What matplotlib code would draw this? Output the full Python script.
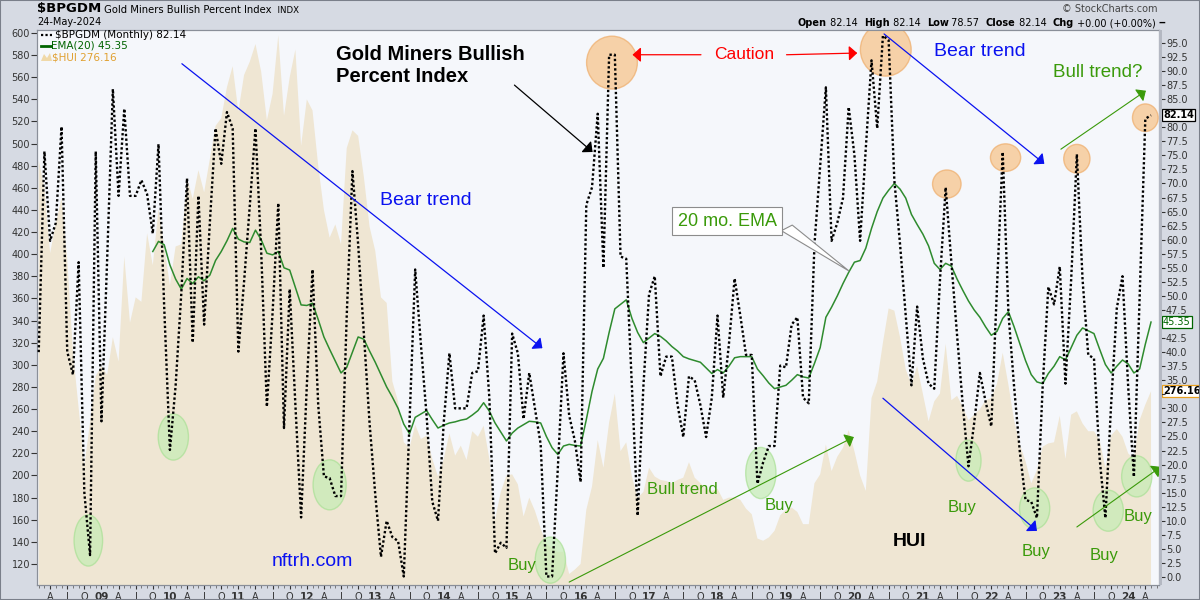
import matplotlib
matplotlib.use("Agg")
import matplotlib.pyplot as plt
import numpy as np
from matplotlib.patches import Ellipse, Polygon, Rectangle
from matplotlib.lines import Line2D

# monthly data, first point = Feb 2008 (month index counted from Jan 2009)
first_month = -11
bpgdm = [
    40.0, 75.7, 59.8, 63.0, 80.1, 40.1, 36.0, 56.0, 15.0, 3.9, 75.7,
    27.7, 56.6, 86.8, 67.8, 83.3, 67.8, 67.8, 70.6, 68.1, 61.1, 77.0, 48.0,
    22.6, 34.0, 50.5, 70.9, 41.7, 67.8, 44.9, 63.0, 79.8, 73.5, 82.7, 79.8,
    40.1, 52.5, 66.0, 79.8, 58.0, 30.3, 47.0, 66.5, 26.5, 51.2, 30.6, 10.6,
    34.0, 54.7, 30.6, 17.9, 17.6, 14.4, 14.4, 46.5, 72.2, 59.2, 43.3, 27.4,
    14.7, 3.6, 10.0, 7.1, 6.4, 0.1, 27.4, 54.7, 41.4, 28.7, 13.4, 10.0,
    27.4, 39.8, 30.0, 30.0, 30.0, 36.3, 36.6, 46.5, 31.9, 4.2, 6.1, 5.2,
    43.3, 39.8, 28.1, 36.3, 30.0, 23.6, 0.1, 0.1, 19.2, 39.8, 28.7, 24.2,
    16.9, 66.2, 69.3, 82.4, 55.0, 92.9, 92.9, 57.0, 56.6, 33.8, 10.9, 33.8,
    50.3, 53.5, 35.7, 39.2, 39.2, 30.6, 24.9, 35.7, 35.0, 30.6, 24.9, 31.9,
    46.5, 31.9, 41.4, 53.1, 46.5, 39.5, 39.5, 16.6, 20.4, 23.3, 23.3, 37.6,
    37.3, 44.9, 46.2, 31.9, 30.9, 59.2, 73.2, 87.1, 59.8, 63.0, 67.4, 83.6,
    75.1, 59.8, 76.3, 91.9, 79.8, 96.3, 95.5, 70.6, 59.2, 46.5, 34.1, 48.1,
    38.9, 34.4, 33.5, 52.8, 69.3, 56.0, 43.0, 30.6, 19.7, 27.4, 36.3, 31.2,
    26.8, 51.6, 75.6, 47.0, 33.8, 22.3, 13.7, 13.4, 10.5, 33.8, 51.6, 48.5,
    55.2, 34.4, 52.9, 75.2, 52.9, 39.5, 38.9, 21.0, 10.5, 30.6, 47.8, 53.5,
    33.8, 17.8, 49.7, 81.5, 82.14,
]
hui = [
    485, 460, 401, 428, 451, 396, 312, 261, 209, 248, 290,
    299, 291, 325, 303, 398, 338, 361, 357, 419, 390, 441, 407,
    372, 407, 409, 469, 450, 476, 456, 486, 516, 523, 551, 570,
    529, 562, 574, 590, 565, 521, 545, 598, 525, 560, 585, 498,
    540, 530, 480, 440, 415, 427, 409, 496, 512, 507, 470, 425,
    403, 361, 356, 285, 267, 230, 225, 246, 233, 236, 215, 199,
    215, 238, 218, 227, 214, 240, 235, 245, 215, 160, 185, 200,
    201, 192, 163, 180, 168, 152, 138, 134, 131, 131, 111, 115,
    120, 169, 190, 232, 207, 248, 274, 222, 230, 199, 180, 185,
    207, 199, 196, 195, 193, 196, 198, 212, 198, 193, 188, 186,
    188, 178, 180, 180, 178, 170, 165, 143, 141, 144, 150, 164,
    169, 171, 167, 156, 156, 193, 201, 228, 204, 217, 225, 241,
    222, 200, 186, 270, 285, 320, 351, 349, 325, 296, 282, 299,
    274, 249, 267, 274, 319, 268, 272, 262, 250, 255, 260, 268,
    270, 283, 311, 282, 250, 228, 213, 193, 205, 226, 229, 230,
    254, 215, 255, 258, 247, 240, 240, 232, 207, 236, 242, 235,
    220, 215, 250, 264, 276.16,
]
# EMA(20) as drawn on the chart, first value = Oct 2009
ema_first_month = 9
ema20 = [
    57.9, 59.7, 59.1,
    55.5, 53.0, 51.2, 53.1, 52.2, 53.4, 52.7, 53.7, 56.3, 57.9, 59.8, 62.0,
    60.1, 59.6, 59.5, 61.7, 60.0, 57.6, 57.3, 57.9, 55.0, 54.6, 51.5, 48.4,
    48.3, 48.7, 45.8, 42.7, 40.5, 38.4, 36.3, 37.3, 40.0, 42.7, 42.3, 40.2,
    38.2, 36.0, 33.8, 32.0, 30.0, 27.2, 25.5, 28.4, 29.0, 29.6, 28.0, 26.5,
    27.0, 27.4, 27.6, 27.9, 28.1, 28.8, 29.6, 31.0, 29.5, 27.4, 25.8, 24.2,
    25.6, 26.5, 27.1, 27.7, 27.6, 27.4, 25.0, 23.0, 21.8, 23.3, 23.6, 23.4,
    23.3, 28.0, 33.0, 37.0, 38.9, 43.5, 47.7, 48.5, 49.3, 46.0, 43.5, 41.7,
    42.5, 43.3, 42.8, 42.0, 41.0, 40.2, 39.2, 38.8, 38.5, 38.2, 37.2, 36.2,
    36.9, 36.3, 37.5, 39.0, 39.2, 39.2, 39.2, 37.0, 35.8, 34.5, 33.5, 33.8,
    34.1, 35.0, 36.0, 35.6, 35.4, 38.0, 40.8, 46.2, 48.0, 50.0, 52.2, 54.2,
    56.0, 56.3, 58.5, 62.0, 65.0, 67.4, 68.8, 70.0, 69.0, 67.4, 64.5, 62.7,
    61.0, 58.9, 55.8, 54.7, 55.8, 55.3, 53.0, 51.0, 49.1, 47.5, 46.2, 44.5,
    43.0, 43.7, 46.0, 47.2, 44.5, 41.5, 38.5, 36.0, 34.7, 34.4, 36.2, 37.5,
    39.2, 38.6, 40.8, 43.0, 44.3, 43.8, 43.3, 40.5, 37.8, 36.3, 37.5, 38.6,
    37.9, 36.3, 37.0, 41.4, 45.35,
]
last_bp, last_ema, last_hui = 82.14, 45.35, 276.16
quarter_letters = {3: "A", 6: "J", 9: "O"}
hui_ticks = list(range(120, 601, 20))
bp_ticks = [i * 2.5 for i in range(39)]
bp_hidden = [82.5, 45.0, 32.5]   # labels covered by the last-value tags

# annotation marks (month index, BPGDM value, width in months, height in %)
caution_circles = [(89.5, 91.5, 8.9, 9.4), (137.5, 93.8, 8.9, 9.4), (148.2, 69.9, 5.0, 5.0),
                   (158.5, 74.6, 5.3, 4.9), (171.0, 74.4, 4.6, 5.1), (183.0, 81.7, 4.5, 4.9)]
buy_circles = [(-2.3, 6.5, 5.0, 9.1), (12.6, 24.9, 5.3, 8.2), (40.0, 16.4, 5.8, 8.9),
               (78.7, 3.0, 5.3, 8.2), (115.6, 18.5, 5.3, 9.1), (152.0, 20.7, 4.4, 7.3),
               (163.6, 12.2, 5.3, 7.3), (176.5, 11.8, 5.3, 7.3), (181.5, 17.9, 5.3, 7.3)]
buy_labels = [(73.8, 2.0), (118.8, 12.8), (150.9, 12.3), (163.8, 4.6), (175.8, 3.9), (181.7, 10.7)]

W, H = 1200, 600
fig = plt.figure(figsize=(12, 6), dpi=100, facecolor="#d6dae3")


def fx(x, y):
    return x / W, 1 - y / H


L, R, T, B = 37, 1159, 30, 585
ax = fig.add_axes([L / W, 1 - B / H, (R - L) / W, (B - T) / H])
ax.set_facecolor("#f5f7fb")
ax2 = ax.twinx()
ax2.patch.set_visible(False)

months = np.arange(first_month, first_month + len(bpgdm))
ema_months = np.arange(ema_first_month, ema_first_month + len(ema20))

ax.fill_between(months, hui, 0, color="#efe6d3", lw=0, zorder=1)
ax.set_ylim(101, 602.7)
ax.set_xlim(-11.3, 185.4)
ax2.set_ylim(-1.42, 97.3)

ax2.plot(ema_months, ema20, color="#2e8b2e", lw=1.1, zorder=3)
ax2.plot(months, bpgdm, color="black", lw=1.7, ls=(0, (1, 1)),
         dash_capstyle="butt", zorder=4)

# ticks
tick_font = dict(family="DejaVu Sans", size=7)
ax.set_yticks(hui_ticks)
ax.set_yticklabels([str(v) for v in hui_ticks], **tick_font)
ax2.set_yticks(bp_ticks)
ax2.set_yticklabels(["" if v in bp_hidden else f"{v:.1f}" for v in bp_ticks], **tick_font)
for a in (ax, ax2):
    a.tick_params(axis="y", direction="out", length=4, width=0.8, colors="#333333", pad=1)
    for s in a.spines.values():
        s.set_color("#8a8f99")

qtr = [m for m in range(-9, 186) if m % 3 == 0]
qlabels = []
for m in qtr:
    k = m % 12
    qlabels.append(f"{(9 + m // 12) % 100:02d}" if k == 0 else quarter_letters[k])
ax.set_xticks(qtr)
ax.set_xticklabels(qlabels, **tick_font)
for lab, m in zip(ax.get_xticklabels(), qtr):
    if m % 12 == 0:
        lab.set_fontweight("bold")
        lab.set_fontsize(7.5)
ax.set_xticks(np.arange(-11, 186), minor=True)
ax.tick_params(axis="x", which="major", direction="out", length=3, pad=2, colors="#333333")
ax.tick_params(axis="x", which="minor", direction="out", length=2, colors="#666666")

# shadow on right of plot
fig.add_artist(Rectangle(fx(R, B), 3 / W, (B - T) / H, color="#b4b8c2", lw=0))

# circles
for m, v, w, h in caution_circles:
    ax2.add_patch(Ellipse((m, v), w, h, facecolor="#f7c58c", edgecolor="#efb070",
                          alpha=0.75, lw=1, zorder=2))
for m, v, w, h in buy_circles:
    ax2.add_patch(Ellipse((m, v), w, h, facecolor="#c5edb5", edgecolor="#a9e095",
                          alpha=0.7, lw=1, zorder=2))

font = "Liberation Sans"
blue = "#0a12f0"
green = "#3a9a0a"


def arrow(p0, p1, color, lw=0.9, hw=9, hl=10):
    ax2.annotate("", xy=p1, xytext=p0, zorder=6, annotation_clip=False,
                 arrowprops=dict(arrowstyle=f"-|>,head_width={hw / 20},head_length={hl / 20}",
                                 color=color, lw=lw, shrinkA=0, shrinkB=0))


ax2.text(41.2, 91.0, "Gold Miners Bullish\nPercent Index", family=font, fontsize=14.5,
         fontweight="bold", ha="left", va="center", linespacing=1.25, zorder=7)
arrow((72.4, 87.5), (86.1, 75.6), "black", lw=0.9)

ax2.text(112.7, 92.9, "Caution", family=font, fontsize=12.5, color="#ff0000",
         ha="center", va="center", zorder=7)
arrow((105.1, 92.9), (93.1, 92.9), "#ff0000")
arrow((120.1, 92.9), (132.5, 93.2), "#ff0000")

ax2.text(56.8, 66.9, "Bear trend", family=font, fontsize=14, color=blue,
         ha="center", va="center", zorder=7)
arrow((14.1, 91.3), (77.3, 40.7), blue)
ax2.text(153.9, 93.4, "Bear trend", family=font, fontsize=14, color=blue,
         ha="center", va="center", zorder=7)
arrow((137.2, 96.6), (165.3, 73.5), blue)
arrow((137.0, 31.8), (164.0, 8.2), blue)

ax2.text(101.8, 15.5, "Bull trend", family=font, fontsize=12, color=green,
         ha="center", va="center", zorder=7)
arrow((82.0, -0.9), (131.9, 24.9), green, lw=0.8)
ax2.text(174.7, 89.8, "Bull trend?", family=font, fontsize=13.5, color=green,
         ha="center", va="center", zorder=7)
arrow((168.2, 76.1), (183.1, 86.5), green, lw=0.8)
arrow((171.0, 8.9), (185.7, 19.6), green, lw=0.8)

for m, v in buy_labels:
    ax2.text(m, v, "Buy", family=font, fontsize=12, color=green,
             ha="center", va="center", zorder=7)

ax2.text(141.6, 6.4, "HUI", family=font, fontsize=14, fontweight="bold",
         ha="center", va="center", zorder=7)
ax2.text(36.9, 2.8, "nftrh.com", family=font, fontsize=14, color=blue,
         ha="center", va="center", zorder=7)

# EMA callout
ax2.add_patch(Polygon([(119.2, 61.6), (121.1, 62.6), (131.1, 54.4)], closed=True,
                      facecolor="white", edgecolor="#8c8c8c", lw=0.8, zorder=7))
ax2.text(109.7, 63.3, "20 mo. EMA", family=font, fontsize=13, color=green,
         ha="center", va="center", zorder=8,
         bbox=dict(boxstyle="square,pad=0.3", facecolor="white", edgecolor="#8c8c8c", lw=0.8))

# legend inside plot
ax_font = dict(family="DejaVu Sans", fontsize=7.5)
fig.add_artist(Line2D([41 / W, 52 / W], [1 - 35 / H] * 2, color="black", lw=1.6,
                      ls=(0, (1, 1))))
fig.text(*fx(55, 35), f"$BPGDM (Monthly) {last_bp:.2f}", va="center", color="black", **ax_font)
fig.add_artist(Line2D([41 / W, 51 / W], [1 - 46 / H] * 2, color="#006400", lw=2))
fig.text(*fx(51, 46), f"EMA(20) {last_ema:.2f}", va="center", color="#006400", **ax_font)
fig.add_artist(Polygon([fx(41, 61), fx(44, 54), fx(47, 58), fx(50, 53), fx(52, 61)],
                       closed=True, facecolor="#f0d9a8", edgecolor="none"))
fig.text(*fx(52, 57), f"$HUI {last_hui:.2f}", va="center", color="#e0a030", **ax_font)


def chain(first, pieces):
    prev = first
    for txt, wt, sz in pieces:
        prev = ax.annotate(txt, xy=(1, 0), xycoords=prev, va="bottom", ha="left",
                           fontsize=sz, fontweight=wt, annotation_clip=False)
    return prev


# header
head = fig.text(*fx(37, 15), "$BPGDM", fontsize=9.5, fontweight="bold", va="bottom")
chain(head, [(" Gold Miners Bullish Percent Index", "normal", 7.2), ("  INDX", "normal", 6.2)])
fig.text(*fx(37, 22), "24-May-2024", fontsize=7, va="center")
fig.text(*fx(1158, 9), "\u00a9 StockCharts.com", fontsize=7, va="center", ha="right",
         color="#444444")

ohlc = fig.text(*fx(798, 28), "Open", fontsize=7, fontweight="bold", va="bottom")
chain(ohlc, [(" 82.14  ", "normal", 7), ("High", "bold", 7), (" 82.14  ", "normal", 7),
             ("Low", "bold", 7), (" 78.57  ", "normal", 7), ("Close", "bold", 7),
             (" 82.14  ", "normal", 7), ("Chg", "bold", 7),
             (" +0.00 (+0.00%) ", "normal", 7), ("\u2012", "bold", 7)])

# last-value tags on right axis
tag = dict(boxstyle="square,pad=0.12", facecolor="white", lw=0.9)
ax2.annotate(f"{last_bp:.2f}", xy=(1, last_bp), xycoords=("axes fraction", "data"),
             xytext=(4, 0), textcoords="offset pixels", va="center", fontsize=7,
             fontweight="bold", bbox=dict(tag, edgecolor="black"), annotation_clip=False)
ax2.annotate(f"{last_ema:.2f}", xy=(1, last_ema), xycoords=("axes fraction", "data"),
             xytext=(4, 0), textcoords="offset pixels", va="center", fontsize=7,
             color="#006400", bbox=dict(tag, edgecolor="#006400"), annotation_clip=False)
ax.annotate(f"{last_hui:.2f}", xy=(1, last_hui), xycoords=("axes fraction", "data"),
            xytext=(4, 0), textcoords="offset pixels", va="center", fontsize=7,
            fontweight="bold", bbox=dict(tag, edgecolor="#e8a020"), annotation_clip=False,
            zorder=10)

fig.add_artist(Rectangle((0, 0), 1, 1, fill=False, edgecolor="#7a7f8a", lw=1.5))
fig.savefig("out.png", dpi=100, facecolor=fig.get_facecolor())
